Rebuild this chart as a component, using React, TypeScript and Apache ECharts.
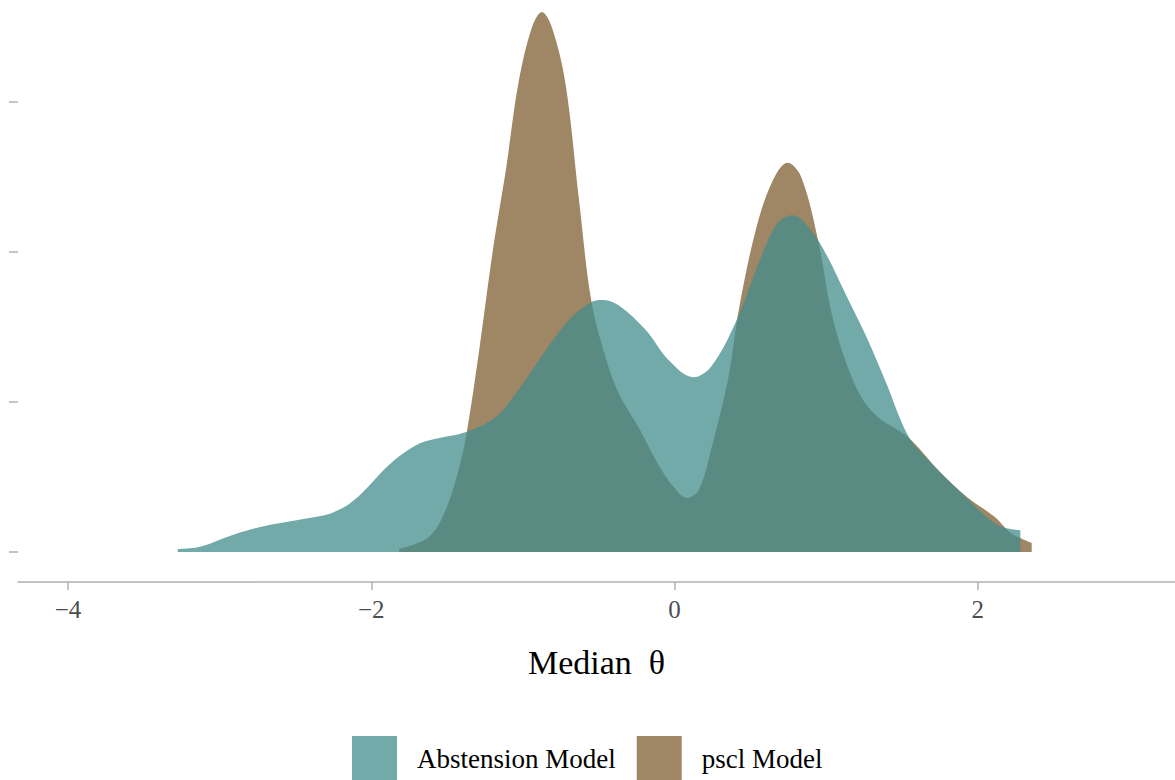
import React, { useEffect, useRef } from "react";
import * as echarts from "echarts";

// Density estimates of median theta (x = theta, y = density)
const abstensionTheta = [-3.276, -3.13, -2.91, -2.74, -2.59, -2.36, -2.26, -2.14, -2.03, -1.93, -1.82, -1.68, -1.55, -1.375, -1.18, -1.03, -0.85, -0.68, -0.55, -0.48, -0.37, -0.19, -0.04, 0.125, 0.24, 0.40, 0.57, 0.68, 0.78, 0.90, 1.01, 1.125, 1.26, 1.39, 1.54, 1.67, 1.89, 2.13, 2.28];
const abstensionDensity = [0.004, 0.007, 0.023, 0.033, 0.039, 0.047, 0.052, 0.065, 0.085, 0.107, 0.127, 0.145, 0.152, 0.16, 0.18, 0.216, 0.269, 0.313, 0.333, 0.336, 0.329, 0.296, 0.256, 0.233, 0.247, 0.305, 0.393, 0.439, 0.449, 0.429, 0.393, 0.345, 0.289, 0.228, 0.155, 0.123, 0.079, 0.036, 0.029];

const psclTheta = [-1.816, -1.62, -1.51, -1.42, -1.37, -1.29, -1.20, -1.11, -1.03, -0.94, -0.875, -0.81, -0.72, -0.63, -0.55, -0.45, -0.37, -0.24, -0.085, 0.026, 0.08, 0.16, 0.24, 0.355, 0.42, 0.53, 0.64, 0.745, 0.835, 0.95, 1.03, 1.125, 1.23, 1.34, 1.54, 1.74, 1.93, 2.11, 2.22, 2.355];
const psclDensity = [0.004, 0.02, 0.056, 0.113, 0.16, 0.267, 0.40, 0.513, 0.625, 0.70, 0.72, 0.70, 0.625, 0.469, 0.336, 0.256, 0.212, 0.167, 0.109, 0.079, 0.072, 0.083, 0.136, 0.233, 0.319, 0.425, 0.492, 0.519, 0.50, 0.412, 0.323, 0.256, 0.207, 0.18, 0.153, 0.109, 0.073, 0.047, 0.025, 0.012];

const xTicks = [-4, -2, 0, 2];
const yTicks = [0, 0.2, 0.4, 0.6];
const seriesNames = ["Abstension Model", "pscl Model"];

const SERIF = "'Liberation Serif', 'DejaVu Serif', serif";

export default function App() {
  const ref = useRef<HTMLDivElement>(null);
  useEffect(() => {
    if (!ref.current) return;
    const chart = echarts.init(ref.current, null, { renderer: "svg" });
    const abst = abstensionTheta.map((x, i) => [x, abstensionDensity[i]]);
    const pscl = psclTheta.map((x, i) => [x, psclDensity[i]]);
    chart.setOption({
      animation: false,
      backgroundColor: "#ffffff",
      grid: { left: 18, right: 0, top: 0, bottom: 198, containLabel: false },
      legend: {
        data: seriesNames,
        left: 352,
        top: 736,
        padding: 0,
        icon: "rect",
        itemWidth: 45,
        itemHeight: 46,
        itemGap: 21,
        textStyle: { fontFamily: SERIF, fontSize: 27, color: "#000", padding: [0, 0, 0, 15] },
      },
      xAxis: {
        type: "value",
        min: -4.33,
        max: 3.3,
        name: "Median  θ",
        nameLocation: "middle",
        nameGap: 63,
        nameTextStyle: { fontFamily: SERIF, fontSize: 34, color: "#000" },
        axisLine: { onZero: false, lineStyle: { color: "#b0b0b0", width: 1.5 } },
        axisTick: { show: true, customValues: xTicks, length: 8, lineStyle: { color: "#b0b0b0", width: 1.5 } },
        axisLabel: {
          customValues: xTicks,
          margin: 15,
          fontFamily: SERIF,
          fontSize: 25,
          color: "#4d4d4d",
          formatter: (v: number) => (v < 0 ? "\u2212" + Math.abs(v) : String(v)),
        },
        splitLine: { show: false },
      },
      yAxis: {
        type: "value",
        min: -0.04,
        max: 0.736,
        axisLine: { show: false, onZero: false },
        axisTick: { show: true, customValues: yTicks, length: 9, lineStyle: { color: "#b0b0b0", width: 1.5 } },
        axisLabel: { show: false },
        splitLine: { show: false },
      },
      series: [
        {
          name: "pscl Model",
          type: "line",
          data: pscl,
          smooth: 0.35,
          showSymbol: false,
          lineStyle: { width: 0 },
          itemStyle: { color: "#9f8664" },
          areaStyle: { color: "#9f8664", opacity: 1, origin: 0 },
          z: 2,
        },
        {
          name: "Abstension Model",
          type: "line",
          data: abst,
          smooth: 0.35,
          showSymbol: false,
          lineStyle: { width: 0 },
          itemStyle: { color: "rgba(67,140,140,0.75)" },
          areaStyle: { color: "rgba(67,140,140,0.75)", opacity: 1, origin: 0 },
          z: 3,
        },
      ],
    });
    return () => chart.dispose();
  }, []);
  return (
    <div
      ref={ref}
      style={{ position: "fixed", left: 0, top: 0, width: 1175, height: 780, background: "#fff" }}
    />
  );
}
